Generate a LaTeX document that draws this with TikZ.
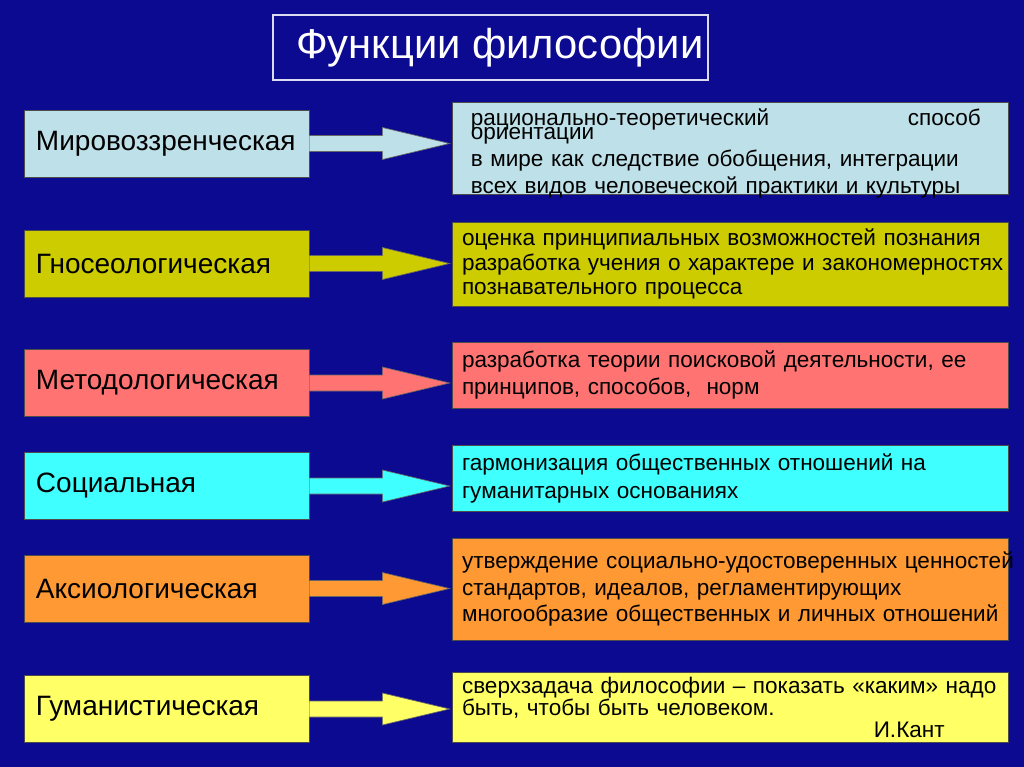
\documentclass[tikz,border=0pt]{standalone}
\usepackage{fontspec}
\setmainfont{Liberation Sans}
\usepackage{tikz}
\usetikzlibrary{calc,positioning}
\definecolor{bg}{RGB}{12,10,145}
\definecolor{cMir}{RGB}{190,224,232}
\definecolor{cGno}{RGB}{204,204,0}
\definecolor{cMet}{RGB}{255,115,115}
\definecolor{cSoc}{RGB}{64,255,255}
\definecolor{cAks}{RGB}{255,153,51}
\definecolor{cGum}{RGB}{255,255,102}

\begin{document}
\begin{tikzpicture}[x=0.75pt,y=-0.75pt,
  func/.style={draw=black!70,line width=0.6pt,minimum width=213.75pt,minimum height=50.25pt,
    text width=195.75pt,inner xsep=9pt,align=left,font=\fontsize{21}{24}\selectfont},
  descr/.style={draw=black!70,line width=0.6pt,minimum width=417pt,
    text width=402pt,inner xsep=7.5pt,align=left},
  blockarr/.style={draw=black!60,line width=0.5pt}]
  \useasboundingbox (0,0) rectangle (1024,767);
  \fill[bg] (0,0) rectangle (1024,767);
  \node[draw=white!85!bg,line width=0.8pt,minimum width=326.25pt,minimum height=48.75pt,
        text=white,font=\fontsize{31.3}{34}\selectfont] (T) at (490.5,47.5) {\hspace*{14pt}Функции философии};

  % left column
  \node[func,fill=cMir] (L1) at (166.5,143.5) {Мировоззренческая};
  \node[func,fill=cGno] (L2) at (166.5,263.5) {Гносеологическая};
  \node[func,fill=cMet] (L3) at (166.5,383)   {Методологическая};
  \node[func,fill=cSoc] (L4) at (166.5,486)   {Социальная};
  \node[func,fill=cAks] (L5) at (166.5,588.5) {Аксиологическая};
  \node[func,fill=cGum] (L6) at (166.5,709)   {Гуманистическая};

  % right column
  \node[descr,fill=cMir,minimum height=69pt] (R1) at (730,148) {};
  \node[anchor=north west,inner sep=0pt,text width=382.5pt,align=left,
        font=\fontsize{16.9}{20.25}\selectfont] (D1) at ($(R1.north west)+(19,0)$)
    {\rule{0pt}{18pt}рационально-теоретический\hskip 0pt plus 1filll способ\\[-9.75pt]
     ориентации\\\mbox{в мире как следствие обобщения, интеграции}\\\mbox{всех видов человеческой практики и культуры}};
  \node[descr,fill=cGno,minimum height=63pt,font=\fontsize{16.9}{18.4}\selectfont] (R2) at (730,264)
    {\mbox{оценка принципиальных возможностей познания}\\\mbox{разработка учения о характере и закономерностях}\\познавательного процесса};
  \node[descr,fill=cMet,minimum height=49.5pt,font=\fontsize{16.9}{20.2}\selectfont] (R3) at (730,375)
    {разработка теории поисковой деятельности, ее\\принципов, способов,~ норм};
  \node[descr,fill=cSoc,minimum height=49.5pt,font=\fontsize{16.9}{21}\selectfont] (R4) at (730,478)
    {гармонизация общественных отношений на\\гуманитарных основаниях};
  \node[descr,fill=cAks,minimum height=76.5pt,font=\fontsize{16.9}{19.9}\selectfont] (R5) at (730,589)
    {\mbox{утверждение социально-удостоверенных ценностей}\\стандартов, идеалов, регламентирующих\\\mbox{многообразие общественных и личных отношений}};
  \node[descr,fill=cGum,minimum height=52.5pt,font=\fontsize{16.9}{16.5}\selectfont] (R6) at (730,707)
    {\mbox{сверхзадача философии -- показать «каким» надо}\\быть, чтобы быть человеком.\\\hskip 0pt plus 1filll И.Кант\hspace*{40pt}\mbox{}};

  \foreach \i/\c in {1/cMir,2/cGno,3/cMet,4/cSoc,5/cAks,6/cGum}
    \draw[blockarr,fill=\c] ($(L\i.east)+(0,-8)$) -- ++(73,0) -- ++(0,-8)
      -- ($(R\i.west |- L\i.east)+(-2,0)$) -- ($(L\i.east)+(73,16)$) -- ++(0,-8)
      -- ($(L\i.east)+(0,8)$);
\end{tikzpicture}
\end{document}
